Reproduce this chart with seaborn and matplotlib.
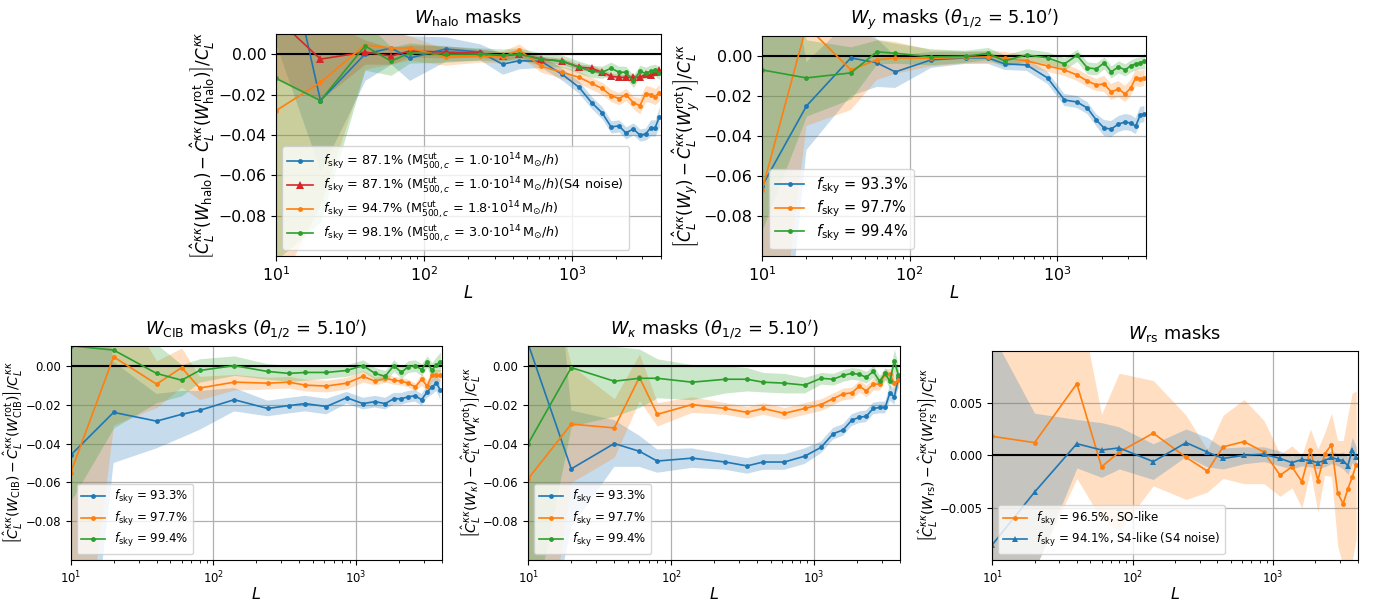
import numpy as np
import pandas as pd
import matplotlib
matplotlib.use("Agg")
import matplotlib.pyplot as plt
import seaborn as sns

# ---------------- data ----------------
L = [10, 20, 40, 60, 80, 140, 240, 340, 440, 620, 860, 1120, 1360, 1600,
     1840, 2080, 2320, 2600, 2880, 3150, 3400, 3650, 3900]

# W_halo masks
halo_b = [0.075, -0.023, 0.000, 0.003, -0.002, 0.0025, 0.001, -0.005, -0.0033, -0.0036, -0.010, -0.0165,
          -0.024, -0.029, -0.036, -0.0355, -0.039, -0.037, -0.040, -0.0395, -0.0365, -0.0365, -0.031]
halo_b_err = [0.07, 0.035, 0.013, 0.008, 0.011, 0.006, 0.004, 0.005, 0.004, 0.003, 0.003, 0.003, 0.003,
              0.003, 0.003, 0.003, 0.003, 0.003, 0.003, 0.003, 0.004, 0.004, 0.005]
halo_r = [0.018, -0.0025, 0.001, -0.001, 0.0015, 0.001, 0.0005, -0.001, 0.0, -0.0025, -0.0035, -0.0065,
          -0.007, -0.009, -0.011, -0.0115, -0.0115, -0.0115, -0.0115, -0.010, -0.0105, -0.009, -0.008]
halo_r_err = [0.03, 0.02, 0.006, 0.004, 0.003, 0.003, 0.002, 0.002, 0.002, 0.0015, 0.0015, 0.0015, 0.0015,
              0.0015, 0.0015, 0.0015, 0.0015, 0.0015, 0.0015, 0.0015, 0.0015, 0.0015, 0.0015]
halo_o = [-0.028, -0.014, 0.0045, 0.003, 0.003, -0.0015, -0.001, -0.0015, 0.002, -0.006, -0.009, -0.0115,
          -0.0145, -0.017, -0.0205, -0.022, -0.020, -0.024, -0.0255, -0.0195, -0.020, -0.021, -0.019]
halo_o_err = [0.09, 0.06, 0.012, 0.008, 0.006, 0.004, 0.003, 0.003, 0.003, 0.003, 0.003, 0.003, 0.003,
              0.003, 0.003, 0.003, 0.003, 0.003, 0.004, 0.004, 0.004, 0.004, 0.004]
halo_g = [-0.012, -0.023, 0.004, -0.0035, 0.0005, 0.0, 0.0, -0.0005, 0.0, -0.0025, -0.0035, -0.0065,
          -0.0085, -0.009, -0.007, -0.009, -0.009, -0.0135, -0.0085, -0.0095, -0.0085, -0.008, -0.0095]
halo_g_err = [0.09, 0.06, 0.012, 0.007, 0.005, 0.004, 0.003, 0.003, 0.003, 0.003, 0.003, 0.003, 0.003,
              0.003, 0.003, 0.003, 0.003, 0.003, 0.003, 0.003, 0.003, 0.003, 0.003]

# W_y masks
y_b = [-0.065, -0.025, -0.001, -0.0035, -0.008, -0.002, -0.001, -0.001, -0.004, -0.0045, -0.011, -0.022,
       -0.023, -0.026, -0.032, -0.036, -0.0365, -0.034, -0.033, -0.0335, -0.035, -0.0295, -0.029]
y_b_err = [0.2, 0.022, 0.019, 0.012, 0.008, 0.004, 0.003, 0.003, 0.003, 0.003, 0.003, 0.003, 0.003,
           0.003, 0.003, 0.004, 0.004, 0.004, 0.004, 0.004, 0.004, 0.004, 0.004]
y_o = [-0.067, 0.015, -0.007, -0.002, -0.001, -0.0012, -0.0008, -0.0005, -0.001, -0.0025, -0.005, -0.007,
       -0.0095, -0.0125, -0.0145, -0.014, -0.018, -0.0165, -0.019, -0.016, -0.011, -0.0115, -0.011]
y_o_err = [0.15, 0.05, 0.02, 0.01, 0.008, 0.004, 0.003, 0.003, 0.003, 0.003, 0.003, 0.003, 0.003,
           0.003, 0.003, 0.004, 0.004, 0.004, 0.004, 0.004, 0.004, 0.004, 0.004]
y_g = [-0.007, -0.011, -0.0085, 0.002, 0.0013, -0.0005, -0.0002, 0.0012, -0.0025, 0.0005, -0.001, -0.004,
       0.0003, -0.006, -0.0065, -0.0035, -0.008, -0.0055, -0.007, -0.005, -0.004, -0.0035, -0.0025]
y_g_err = [0.08, 0.019, 0.013, 0.006, 0.005, 0.004, 0.003, 0.003, 0.003, 0.003, 0.003, 0.003, 0.003,
           0.003, 0.003, 0.003, 0.003, 0.003, 0.003, 0.003, 0.003, 0.003, 0.004]

# W_CIB masks
cib_b = [-0.046, -0.024, -0.0285, -0.025, -0.023, -0.0175, -0.022, -0.0205, -0.0195, -0.021, -0.0165, -0.0195,
         -0.0185, -0.0195, -0.017, -0.017, -0.016, -0.0155, -0.0175, -0.0135, -0.011, -0.009, -0.0125]
cib_b_err = [0.2, 0.026, 0.014, 0.012, 0.01, 0.006, 0.004, 0.004, 0.004, 0.004, 0.003, 0.003, 0.003,
             0.003, 0.003, 0.003, 0.003, 0.003, 0.003, 0.003, 0.004, 0.004, 0.005]
cib_o = [-0.055, 0.0045, -0.0095, -0.001, -0.0115, -0.0085, -0.009, -0.0085, -0.010, -0.0105, -0.009, -0.0055,
         -0.008, -0.0065, -0.0075, -0.008, -0.009, -0.011, -0.007, -0.0105, -0.005, -0.005, -0.005]
cib_o_err = [0.15, 0.035, 0.012, 0.01, 0.006, 0.004, 0.003, 0.003, 0.003, 0.003, 0.003, 0.003, 0.002,
             0.002, 0.002, 0.002, 0.002, 0.002, 0.003, 0.003, 0.003, 0.003, 0.003]
cib_g = [0.0102, 0.008, -0.004, -0.0075, -0.0025, 0.0, -0.003, -0.004, -0.0035, -0.0035, -0.0025, 0.0,
         -0.004, -0.0055, 0.0, -0.0035, -0.0005, 0.0, -0.002, 0.002, -0.0025, 0.0005, 0.002]
cib_g_err = [0.08, 0.04, 0.015, 0.008, 0.006, 0.005, 0.004, 0.004, 0.004, 0.003, 0.003, 0.003, 0.003,
             0.003, 0.003, 0.003, 0.003, 0.003, 0.003, 0.003, 0.004, 0.004, 0.005]

# W_kappa masks
k_b = [0.011, -0.053, -0.040, -0.044, -0.049, -0.0475, -0.0495, -0.0515, -0.0495, -0.0495, -0.0465, -0.042,
       -0.035, -0.033, -0.028, -0.0265, -0.026, -0.022, -0.0215, -0.0215, -0.014, -0.016, -0.0065]
k_b_err = [0.2, 0.03, 0.012, 0.008, 0.006, 0.005, 0.004, 0.004, 0.004, 0.004, 0.004, 0.003, 0.003,
           0.003, 0.003, 0.003, 0.003, 0.003, 0.003, 0.003, 0.004, 0.004, 0.005]
k_o = [-0.058, -0.030, -0.032, -0.006, -0.025, -0.020, -0.022, -0.024, -0.022, -0.0245, -0.022, -0.020,
       -0.017, -0.0145, -0.014, -0.0105, -0.013, -0.0095, -0.0095, -0.0045, -0.0045, -0.009, -0.0075]
k_o_err = [0.15, 0.03, 0.015, 0.012, 0.006, 0.004, 0.003, 0.003, 0.003, 0.003, 0.003, 0.003, 0.003,
           0.003, 0.003, 0.003, 0.003, 0.003, 0.003, 0.003, 0.003, 0.004, 0.004]
k_g = [-0.040, -0.001, -0.008, -0.0065, -0.0065, -0.0085, -0.007, -0.007, -0.0085, -0.009, -0.010, -0.0065,
       -0.007, -0.005, -0.004, -0.0045, -0.006, -0.003, -0.008, -0.004, -0.008, 0.0025, -0.005]
k_g_err = [0.1, 0.03, 0.018, 0.015, 0.01, 0.009, 0.007, 0.006, 0.005, 0.005, 0.004, 0.003, 0.003,
           0.003, 0.003, 0.003, 0.003, 0.003, 0.003, 0.003, 0.004, 0.006, 0.005]

# W_rs masks
rs_o = [0.0018, 0.0012, 0.0068, -0.0011, 0.0003, 0.0021, -0.0002, -0.0015, 0.0008, 0.0013, 0.0003, -0.0019,
        -0.0011, -0.0025, 0.0005, -0.0024, 0.0001, 0.0010, -0.0036, -0.0046, -0.0032, -0.0021, -0.0009]
rs_o_err = [0.02, 0.012, 0.009, 0.005, 0.0075, 0.005, 0.004, 0.002, 0.003, 0.004, 0.003, 0.002, 0.002,
            0.0025, 0.002, 0.003, 0.002, 0.003, 0.005, 0.006, 0.007, 0.008, 0.007]
rs_b = [-0.0085, -0.0035, 0.0011, 0.0005, 0.0007, -0.0006, 0.0012, 0.0003, -0.0003, 0.0, 0.0001, -0.0003,
        -0.0007, -0.0004, -0.0005, -0.0007, -0.0005, -0.0002, -0.0004, -0.0005, -0.0010, 0.0005, -0.0002]
rs_b_err = [0.02, 0.0075, 0.0023, 0.0026, 0.002, 0.0017, 0.0013, 0.0014, 0.001, 0.0008, 0.0007, 0.0007,
            0.0006, 0.0006, 0.0006, 0.0006, 0.0006, 0.0006, 0.0006, 0.0008, 0.0008, 0.0012, 0.001]

BLUE, ORANGE, GREEN, RED = "#1f77b4", "#ff7f0e", "#2ca02c", "#d62728"

halo_lab = r"$f_{\rm sky}$ = %s ($\mathrm{M}^{\rm cut}_{500,c}$ = %s$\cdot$10$^{14}\,\mathrm{M}_{\odot}/h$)%s"
fsky3 = [r"$f_{\rm sky}$ = 93.3%", r"$f_{\rm sky}$ = 97.7%", r"$f_{\rm sky}$ = 99.4%"]


def ylab(w, wr):
    return (r"$\left[\hat{C}_L^{\kappa\kappa}(W_{%s}) - \hat{C}_L^{\kappa\kappa}(W^{\rm rot}_{%s})\right]/C_L^{\kappa\kappa}$"
            % (w, wr))


fig = plt.figure(figsize=(13.88, 6.0), dpi=100)


def panel(rect, series, title, ylabel, tickfs, legfs, labfs, ylim, yticks, lspace, ypad=1, xfs=12):
    ax = fig.add_axes(rect)
    for vals, err, col, lab, mk, ms in series:
        v = np.array(vals)
        e = np.array(err)
        ax.fill_between(L, v - e, v + e, color=col, alpha=0.25, linewidth=0)
    for vals, err, col, lab, mk, ms in series:
        df = pd.DataFrame({"L": L, "v": vals})
        sns.lineplot(data=df, x="L", y="v", ax=ax, color=col, marker=mk, markersize=ms,
                     markeredgewidth=0, linewidth=1.2, label=lab, sort=False, errorbar=None)
    ax.axhline(0, color="black", lw=1.5, zorder=1.5)
    ax.set_xscale("log")
    ax.set_xlim(10, 4000)
    ax.set_ylim(*ylim)
    ax.set_yticks(yticks)
    ax.grid(True, which="major", color="#b0b0b0", lw=0.9)
    ax.set_axisbelow(True)
    ax.tick_params(labelsize=tickfs)
    ax.set_title(title, fontsize=12.8, pad=8)
    ax.set_xlabel(r"$L$", fontsize=xfs, labelpad=0)
    ax.set_ylabel(ylabel, fontsize=labfs, labelpad=ypad)
    ax.legend(loc="lower left", fontsize=legfs, labelspacing=lspace, handletextpad=0.8)
    return ax


panel([0.1988, 0.5733, 0.2774, 0.3700],
      [(halo_b, halo_b_err, BLUE, halo_lab % ("87.1%", "1.0", ""), "o", 3.5),
       (halo_r, halo_r_err, RED, halo_lab % ("87.1%", "1.0", "(S4 noise)"), "^", 5.5),
       (halo_o, halo_o_err, ORANGE, halo_lab % ("94.7%", "1.8", ""), "o", 3.5),
       (halo_g, halo_g_err, GREEN, halo_lab % ("98.1%", "3.0", ""), "o", 3.5)],
      r"$W_{\rm halo}$ masks", ylab(r"\rm halo", r"\rm halo"), 11.3, 9.2, 12,
      (-0.0998, 0.0099), [-0.08, -0.06, -0.04, -0.02, 0.0], 0.2)

panel([0.5490, 0.5733, 0.2767, 0.3667],
      [(y_b, y_b_err, BLUE, fsky3[0], "o", 3.5),
       (y_o, y_o_err, ORANGE, fsky3[1], "o", 3.5),
       (y_g, y_g_err, GREEN, fsky3[2], "o", 3.5)],
      r"$W_y$ masks ($\theta_{1/2}$ = 5.10$'$)", ylab("y", "y"), 11.5, 10.5, 12,
      (-0.0998, 0.0099), [-0.08, -0.06, -0.04, -0.02, 0.0], 0.2)

panel([0.0509, 0.0667, 0.2675, 0.3567],
      [(cib_b, cib_b_err, BLUE, fsky3[0], "o", 3.5),
       (cib_o, cib_o_err, ORANGE, fsky3[1], "o", 3.5),
       (cib_g, cib_g_err, GREEN, fsky3[2], "o", 3.5)],
      r"$W_{\rm CIB}$ masks ($\theta_{1/2}$ = 5.10$'$)", ylab(r"\rm CIB", r"\rm CIB"), 8.4, 8.5, 10,
      (-0.0998, 0.0101), [-0.08, -0.06, -0.04, -0.02, 0.0], 0.3, ypad=0, xfs=11.5)

panel([0.3806, 0.0667, 0.2678, 0.3567],
      [(k_b, k_b_err, BLUE, fsky3[0], "o", 3.5),
       (k_o, k_o_err, ORANGE, fsky3[1], "o", 3.5),
       (k_g, k_g_err, GREEN, fsky3[2], "o", 3.5)],
      r"$W_{\kappa}$ masks ($\theta_{1/2}$ = 5.10$'$)", ylab(r"\kappa", r"\kappa"), 8.4, 8.5, 10,
      (-0.0998, 0.0101), [-0.08, -0.06, -0.04, -0.02, 0.0], 0.3, ypad=0, xfs=11.5)

panel([0.7149, 0.0667, 0.2633, 0.3490],
      [(rs_o, rs_o_err, ORANGE, r"$f_{\rm sky}$ = 96.5%, SO-like", "o", 3.5),
       (rs_b, rs_b_err, BLUE, r"$f_{\rm sky}$ = 94.1%, S4-like (S4 noise)", "^", 5)],
      r"$W_{\rm rs}$ masks", ylab(r"\rm rs", r"\rm rs"), 8.4, 8.5, 10,
      (-0.00995, 0.00995), [-0.005, 0.0, 0.005], 0.3, ypad=0, xfs=11.5)

fig.savefig("out.png", dpi=100)
